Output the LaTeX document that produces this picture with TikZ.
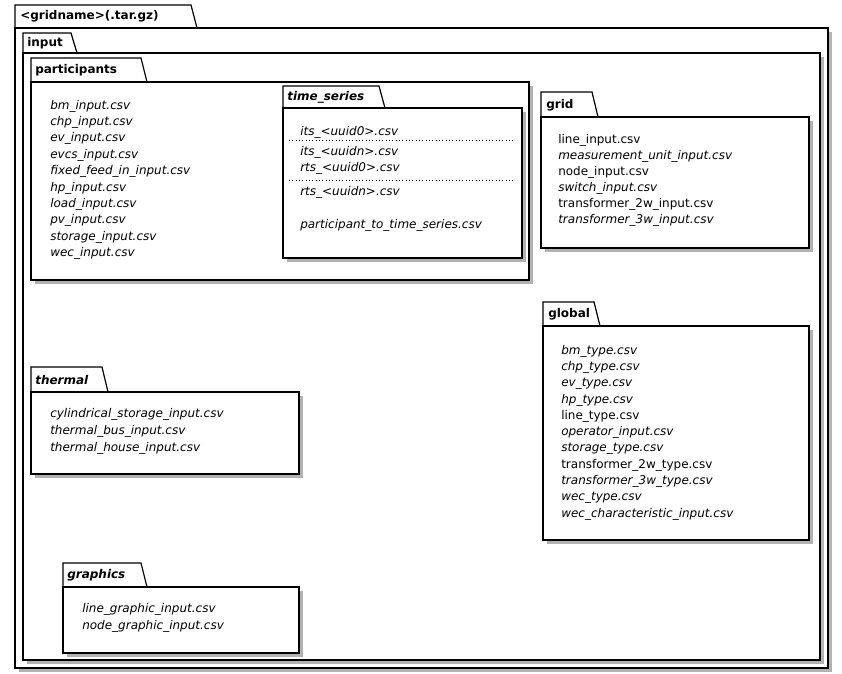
\documentclass[tikz,border=0pt]{standalone}
\usepackage{fontspec}
\setmainfont{DejaVu Sans}
\tikzset{
  pkg/.style={draw=black, line width=0.9pt, fill=white},
  shade/.style={fill=black!30, draw=none},
  item/.style={anchor=west, inner sep=0pt, font=\fontsize{9}{11}\selectfont},
  it/.style={item, font=\fontsize{9}{11}\selectfont\itshape},
  title/.style={anchor=west, inner sep=0pt, font=\fontsize{9}{11}\selectfont\bfseries},
  sep/.style={dotted, line width=0.5pt}
}
% \folder{left}{tabright}{right}{tabtop}{bodytop}{bottom}
\newcommand\folder[6]{%
  \fill[shade] (#1+4,#5+4) rectangle (#3+4,#6+4);
  \draw[pkg] (#1,#4) -- (#2-6,#4) -- (#2,#5) -- (#1,#5) -- cycle;
  \draw[pkg] (#1,#5) rectangle (#3,#6);
}
\begin{document}
\begin{tikzpicture}[x=0.75pt, y=-0.75pt]
  \useasboundingbox (0,0) rectangle (842,674);

  % outer package
  \folder{15}{197}{828}{5}{28}{668}
  \node[title] (root) at (20,16) {<gridname>(.tar.gz)};

  % input
  \folder{23}{77}{820}{33}{53}{660}
  \node[title] (input) at (27,43) {input};

  % participants
  \folder{31}{147}{529}{58}{82}{280}
  \node[title] (participants) at (35,70) {participants};
  \foreach \f [count=\i from 0] in {bm\_input.csv, chp\_input.csv, ev\_input.csv,
      evcs\_input.csv, fixed\_feed\_in\_input.csv, hp\_input.csv, load\_input.csv,
      pv\_input.csv, storage\_input.csv, wec\_input.csv}
    \node[it] (p\i) at (50,106+16.4*\i) {\f};

  % time series
  \folder{283}{385}{522}{86}{108}{258}
  \node[title, font=\fontsize{9}{11}\selectfont\bfseries\itshape] (ts) at (287,97) {time\_series};
  \node[it] (ts0) at (300,132) {its\_<uuid0>.csv};
  \draw[sep] (289,140) -- (513,140);
  \node[it] (ts1) at (300,152) {its\_<uuidn>.csv};
  \node[it] (ts2) at (300,168) {rts\_<uuid0>.csv};
  \draw[sep] (289,180) -- (513,180);
  \node[it] (ts3) at (300,192) {rts\_<uuidn>.csv};
  \node[it] (ts4) at (300,225) {participant\_to\_time\_series.csv};

  % grid
  \folder{541}{598}{809}{92}{117}{248}
  \node[title] (grid) at (546,105) {grid};
  \node[item] (g0) at (558,140) {line\_input.csv};
  \node[it]   (g1) at (558,156) {measurement\_unit\_input.csv};
  \node[item] (g2) at (558,172) {node\_input.csv};
  \node[it]   (g3) at (558,188) {switch\_input.csv};
  \node[item] (g4) at (558,204) {transformer\_2w\_input.csv};
  \node[it]   (g5) at (558,220) {transformer\_3w\_input.csv};

  % global
  \folder{543}{600}{809}{302}{326}{540}
  \node[title] (global) at (548,314) {global};
  \foreach \f/\s [count=\i from 0] in {bm\_type.csv/it, chp\_type.csv/it, ev\_type.csv/it,
      hp\_type.csv/it, line\_type.csv/item, operator\_input.csv/it, storage\_type.csv/it,
      transformer\_2w\_type.csv/item, transformer\_3w\_type.csv/it, wec\_type.csv/it,
      wec\_characteristic\_input.csv/it}
    \node[\s] (gl\i) at (561,351+16.3*\i) {\f};

  % thermal
  \folder{31}{108}{299}{367}{392}{474}
  \node[title, font=\fontsize{9}{11}\selectfont\bfseries\itshape] (thermal) at (35,380) {thermal};
  \node[it] (t0) at (50,414) {cylindrical\_storage\_input.csv};
  \node[it] (t1) at (50,431) {thermal\_bus\_input.csv};
  \node[it] (t2) at (50,448) {thermal\_house\_input.csv};

  % graphics
  \folder{63}{147}{299}{563}{587}{653}
  \node[title, font=\fontsize{9}{11}\selectfont\bfseries\itshape] (graphics) at (67,575) {graphics};
  \node[it] (gr0) at (82,609) {line\_graphic\_input.csv};
  \node[it] (gr1) at (82,626) {node\_graphic\_input.csv};
\end{tikzpicture}
\end{document}
